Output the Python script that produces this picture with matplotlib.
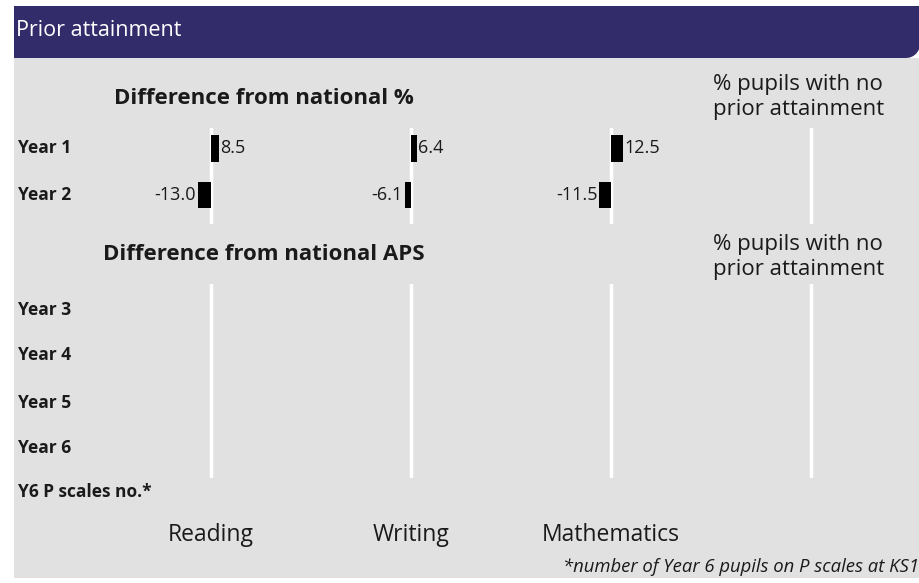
import numpy as np
import matplotlib.pyplot as plt
from matplotlib.patches import Rectangle, Polygon

plt.rcParams['font.family'] = ['Open Sans', 'DejaVu Sans']

W, H = 920, 583

subjects = ['Reading', 'Writing', 'Mathematics']
pct_rows = ['Year 1', 'Year 2']
pct_diff = {
    'Reading': [8.5, -13.0],
    'Writing': [6.4, -6.1],
    'Mathematics': [12.5, -11.5],
}
aps_rows = ['Year 3', 'Year 4', 'Year 5', 'Year 6']
footnote = '*number of Year 6 pupils on P scales at KS1'

BG = '#e1e1e1'
HEAD = '#332c6b'
TXT = '#1a1a1a'

fig = plt.figure(figsize=(W / 100, H / 100), dpi=100)
fig.patch.set_facecolor('white')

# pixel-coordinate canvas for panels and text
bg = fig.add_axes([0, 0, 1, 1])
bg.set_xlim(0, W)
bg.set_ylim(H, 0)
bg.axis('off')

left = 14
bg.add_patch(Rectangle((left, 58), W - left, 520, facecolor=BG, edgecolor='none'))

# header band with rounded bottom-right corner
r = 14
theta = np.linspace(0, np.pi / 2, 12)
corner = [(W - r + r * np.cos(t), 58 - r + r * np.sin(t)) for t in theta]
header = [(left, 6), (W, 6)] + corner + [(left, 58)]
bg.add_patch(Polygon(header, closed=True, facecolor=HEAD, edgecolor='none'))
bg.text(16, 31, 'Prior attainment', color='white', fontsize=15.5,
        va='center', ha='left')

bg.text(264, 99, 'Difference from national %', fontsize=16, fontweight='bold',
        color=TXT, ha='center', va='center')
bg.text(264, 255, 'Difference from national APS', fontsize=16, fontweight='bold',
        color=TXT, ha='center', va='center')
for y0 in (97, 257):
    bg.text(713, y0, '% pupils with no\nprior attainment', fontsize=16,
            color=TXT, ha='left', va='center', linespacing=1.3)

row_y_pct = [148, 195]
row_y_aps = [310, 355, 403, 448]
for lab, y in zip(pct_rows, row_y_pct):
    bg.text(18, y, lab, fontsize=12.5, fontweight='bold', color=TXT, va='center')
for lab, y in zip(aps_rows, row_y_aps):
    bg.text(18, y, lab, fontsize=12.5, fontweight='bold', color=TXT, va='center')
bg.text(18, 492, 'Y6 P scales no.*', fontsize=12.5, fontweight='bold',
        color=TXT, va='center')

col_x = [211, 411, 611, 811]
for s, x in zip(subjects, col_x):
    bg.text(x, 535, s, fontsize=16.5, color=TXT, ha='center', va='center')
bg.text(563, 567, footnote, fontsize=13.3, style='italic', color=TXT,
        ha='left', va='center')


def px_axes(x0, y0, x1, y1):
    return fig.add_axes([x0 / W, 1 - y1 / H, (x1 - x0) / W, (y1 - y0) / H])


# top section: difference from national %
top0, top1 = 128, 224
unit = 47.0
for i, x in enumerate(col_x):
    ax = px_axes(x - 100, top0, x + 100, top1)
    ax.set_xlim(-100, 100)
    ax.set_ylim(1 + (top1 - row_y_pct[1]) / unit, -(row_y_pct[0] - top0) / unit)
    ax.axis('off')
    ax.axvline(0, color='white', lw=2.5, zorder=1)
    if i < len(subjects):
        vals = pct_diff[subjects[i]]
        ypos = np.arange(len(vals))
        ax.barh(ypos, vals, height=27 / unit, color='black', zorder=2)
        for yy, v in zip(ypos, vals):
            ha = 'left' if v >= 0 else 'right'
            off = 1 if v >= 0 else -2
            ax.text(v + off, yy, f'{v:.1f}', ha=ha, va='center',
                    fontsize=13, color=TXT)

# lower section: difference from national APS (no values)
bot0, bot1 = 284, 478
for x in col_x:
    ax = px_axes(x - 100, bot0, x + 100, bot1)
    ax.set_xlim(-100, 100)
    ax.set_ylim(len(aps_rows) - 0.5, -0.5)
    ax.axis('off')
    ax.axvline(0, color='white', lw=2.5, zorder=1)

fig.savefig('out.png', dpi=100, facecolor=fig.get_facecolor())
